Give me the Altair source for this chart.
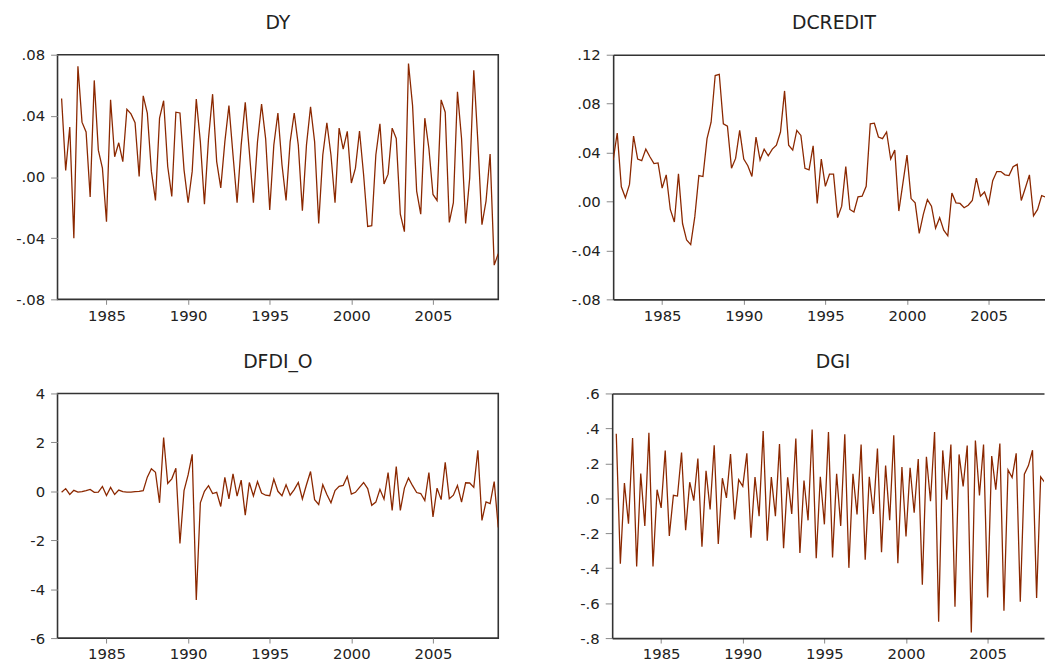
import altair as alt
import pandas as pd

# ---- data (quarterly) ----
dy_start = 1982.25
dy = [0.0514, 0.0043, 0.0327, -0.040, 0.0725, 0.0359, 0.0295, -0.0131, 0.0632, 0.0176,
      0.0058, -0.0292, 0.0505, 0.0133, 0.0224, 0.0101, 0.0443, 0.0413, 0.0355, 0.0004,
      0.0531, 0.0419, 0.0037, -0.0153, 0.0385, 0.0499, 0.0069, -0.0127, 0.0424, 0.0419,
      0.0047, -0.0168, 0.0037, 0.051, 0.023, -0.0178, 0.0252, 0.0542, 0.0101, -0.0071,
      0.023, 0.0467, 0.0144, -0.0168, 0.0209, 0.0488, 0.0166, -0.0168, 0.023, 0.0477,
      0.025, -0.0215, 0.0209, 0.0419, 0.008, -0.0153, 0.023, 0.0419, 0.0209, -0.0221,
      0.0209, 0.046, 0.023, -0.0303, 0.0144, 0.0355, 0.0144, -0.0168, 0.032, 0.0183,
      0.0299, -0.0039, 0.0058, 0.0301, 0.0015, -0.0323, -0.0318, 0.0144, 0.0348, -0.0045,
      0.0019, 0.032, 0.0252, -0.0243, -0.0357, 0.0742, 0.0467, -0.0092, -0.0243, 0.0385,
      0.0187, -0.0114, -0.0153, 0.0505, 0.0424, -0.0297, -0.0168, 0.0557, 0.0252, -0.0303,
      -0.0006, 0.0699, 0.023, -0.0312, -0.0157, 0.0151, -0.0576, -0.0501]

dcredit_start = 1982.0
dcredit = [0.034, 0.056, 0.012, 0.003, 0.014, 0.0535, 0.0347, 0.0334, 0.0428, 0.0366,
           0.031, 0.0315, 0.011, 0.0218, -0.0065, -0.0167, 0.0226, -0.018, -0.0315, -0.0352,
           -0.0126, 0.0212, 0.0204, 0.0514, 0.0648, 0.103, 0.104, 0.0635, 0.0616, 0.0272,
           0.0352, 0.0581, 0.0347, 0.0293, 0.0204, 0.0527, 0.0339, 0.0428, 0.0374, 0.0428,
           0.046, 0.0568, 0.0904, 0.046, 0.042, 0.0581, 0.054, 0.0272, 0.0258, 0.0455,
           -0.0016, 0.0347, 0.0124, 0.0223, 0.0223, -0.0132, -0.0038, 0.0285, -0.0065, -0.0086,
           0.0038, 0.0043, 0.0124, 0.0635, 0.064, 0.0527, 0.0514, 0.0568, 0.0347, 0.042,
           -0.0078, 0.015, 0.0379, 0.0024, -0.0011, -0.0261, -0.0105, 0.0016, -0.0038, -0.0218,
           -0.0132, -0.0234, -0.028, 0.007, -0.0011, -0.0016, -0.0051, -0.003, 0.0008, 0.0191,
           0.0043, 0.0078, -0.0019, 0.017, 0.0245, 0.0245, 0.0218, 0.0212, 0.0285, 0.0304,
           0.0008, 0.011, 0.0218, -0.0118, -0.0065, 0.0048, 0.0035, -0.004, 0.0]

dfdi_start = 1982.25
dfdi_o = [-0.04, 0.11, -0.13, 0.04, -0.03, -0.01, 0.03, 0.08, -0.04, -0.03,
          0.2, -0.17, 0.16, -0.13, 0.05, -0.01, -0.03, -0.03, -0.01, 0.0,
          0.03, 0.58, 0.92, 0.78, -0.47, 2.2, 0.32, 0.51, 0.94, -2.13,
          0.03, 0.67, 1.51, -4.44, -0.47, 0.0, 0.23, -0.09, -0.04, -0.62,
          0.57, -0.31, 0.71, -0.2, 0.46, -0.98, 0.36, -0.19, 0.4, -0.07,
          -0.16, -0.18, 0.5, 0.0, -0.18, 0.27, -0.16, 0.07, 0.36, -0.31,
          0.27, 0.81, -0.34, -0.54, 0.27, -0.13, -0.47, 0.03, 0.2, 0.24,
          0.61, -0.11, -0.04, 0.16, 0.36, 0.11, -0.57, -0.44, 0.08, -0.32,
          0.77, -0.78, 1.01, -0.78, 0.13, 0.54, 0.23, -0.05, -0.09, -0.38,
          0.77, -1.05, 0.13, -0.34, 1.19, -0.3, -0.16, 0.24, -0.44, 0.35,
          0.34, 0.16, 1.68, -1.19, -0.43, -0.5, 0.4, -1.48]

dgi_start = 1982.25
dgi = [0.37, -0.375, 0.087, -0.145, 0.345, -0.39, 0.142, -0.158, 0.375, -0.39,
       0.049, -0.055, 0.274, -0.215, 0.017, 0.013, 0.262, -0.183, 0.092, -0.013,
       0.228, -0.277, 0.157, -0.064, 0.304, -0.262, 0.115, 0.002, 0.253, -0.121,
       0.106, 0.068, 0.257, -0.225, 0.121, -0.102, 0.385, -0.243, 0.121, -0.102,
       0.311, -0.285, 0.12, -0.089, 0.342, -0.313, 0.102, -0.126, 0.394, -0.343,
       0.123, -0.149, 0.379, -0.338, 0.14, -0.158, 0.366, -0.398, 0.14, -0.092,
       0.308, -0.351, 0.123, -0.089, 0.285, -0.309, 0.187, -0.126, 0.36, -0.372,
       0.179, -0.219, 0.175, -0.083, 0.225, -0.494, 0.238, -0.017, 0.379, -0.706,
       0.274, -0.008, 0.308, -0.621, 0.251, 0.068, 0.302, -0.768, 0.33, 0.017,
       0.308, -0.568, 0.242, 0.049, 0.313, -0.643, 0.162, 0.119, 0.257, -0.592,
       0.138, 0.187, 0.275, -0.57, 0.123, 0.091, 0.28, -0.3]

year_ticks = [1985, 1990, 1995, 2000, 2005]
dy_ticks = [-0.08, -0.04, 0.0, 0.04, 0.08]
dcredit_ticks = [-0.08, -0.04, 0.0, 0.04, 0.08, 0.12]
dfdi_ticks = [-6, -4, -2, 0, 2, 4]
dgi_ticks = [-0.8, -0.6, -0.4, -0.2, 0.0, 0.2, 0.4, 0.6]

LINE = "#8b2800"
FRAME = "#333333"
FONT = "DejaVu Sans"
W, H = 445, 247
PX_PER_YEAR = W / 27.0
W_RIGHT = 436                       # right-hand panels are cut by the page edge
X_END_RIGHT = 1982 + W_RIGHT / PX_PER_YEAR


def frame(values, start):
    return pd.DataFrame({"t": [start + 0.25 * i for i in range(len(values))], "v": values})


def enc(ticks, fmt, x_end, with_domain):
    dom = dict(domain=True, domainColor=FRAME, domainWidth=1.6) if with_domain else {}
    x = alt.X("t:Q", scale=alt.Scale(domain=[1982, x_end], nice=False, zero=False),
              axis=alt.Axis(values=year_ticks, labelExpr="format(datum.value, 'd')",
                            title=None, tickSize=5, labelPadding=4, **dom))
    y = alt.Y("v:Q", scale=alt.Scale(domain=[ticks[0], ticks[-1]], nice=False, zero=False),
              axis=alt.Axis(values=ticks, labelExpr=fmt, title=None,
                            tickSize=7, labelPadding=6, **dom))
    return x, y


def left_panel(title, values, start, ticks, fmt):
    x, y = enc(ticks, fmt, 2009, False)
    return alt.Chart(frame(values, start),
                     title=alt.Title(title, baseline="alphabetic")).mark_line(
        color=LINE, strokeWidth=1.3, clip=True
    ).encode(x=x, y=y).properties(width=W, height=H)


def right_panel(title, values, start, ticks, fmt):
    df = frame(values, start)
    x, y = enc(ticks, fmt, X_END_RIGHT, True)
    line = alt.Chart(df).mark_line(color=LINE, strokeWidth=1.3, clip=True).encode(x=x, y=y)
    top = alt.Chart(df).mark_line(opacity=0, clip=True).encode(
        x=alt.X("t:Q", scale=alt.Scale(domain=[1982, X_END_RIGHT], nice=False, zero=False),
                axis=alt.Axis(orient="top", labels=False, ticks=False, title=None,
                              domain=True, domainColor=FRAME, domainWidth=1.6)),
        y=alt.value(0),
    )
    return alt.layer(line, top, title=alt.Title(title, baseline="alphabetic", dx=5),
                     view=alt.ViewBackground(stroke=None)).resolve_axis(
        x="independent").properties(width=W_RIGHT, height=H)


# EViews-style labels: ".04", "-.04", ".0"
fmt2 = "replace(replace(format(datum.value, '.2f'), '\u2212', '-'), '0.', '.')"
fmt1 = "replace(replace(format(datum.value, '.1f'), '\u2212', '-'), '0.', '.')"
fmt0 = "replace(format(datum.value, 'd'), '\u2212', '-')"

p1 = left_panel("DY", dy, dy_start, dy_ticks, fmt2)
p2 = right_panel("DCREDIT", dcredit, dcredit_start, dcredit_ticks, fmt2)
p3 = left_panel("DFDI_O", dfdi_o, dfdi_start, dfdi_ticks, fmt0)
p4 = right_panel("DGI", dgi, dgi_start, dgi_ticks, fmt1)

chart = alt.vconcat(
    alt.hconcat(p1, p2, spacing=72),
    alt.hconcat(p3, p4, spacing=72),
    spacing=28,
).properties(
    padding={"left": 6, "top": 2, "right": 0, "bottom": 0},
    background="white",
).configure_view(
    stroke=FRAME, strokeWidth=1.6
).configure_axis(
    domain=False, grid=False, tickColor="#888888", tickWidth=1,
    labelFont=FONT, labelFontSize=15, labelColor="#222222"
).configure_axisY(
    minExtent=42, maxExtent=42
).configure_title(
    font=FONT, fontSize=19, fontWeight="normal", color="#222222", anchor="middle", offset=-0.5
)

chart.save("out.html", embed_options={"renderer": "svg", "actions": False})
